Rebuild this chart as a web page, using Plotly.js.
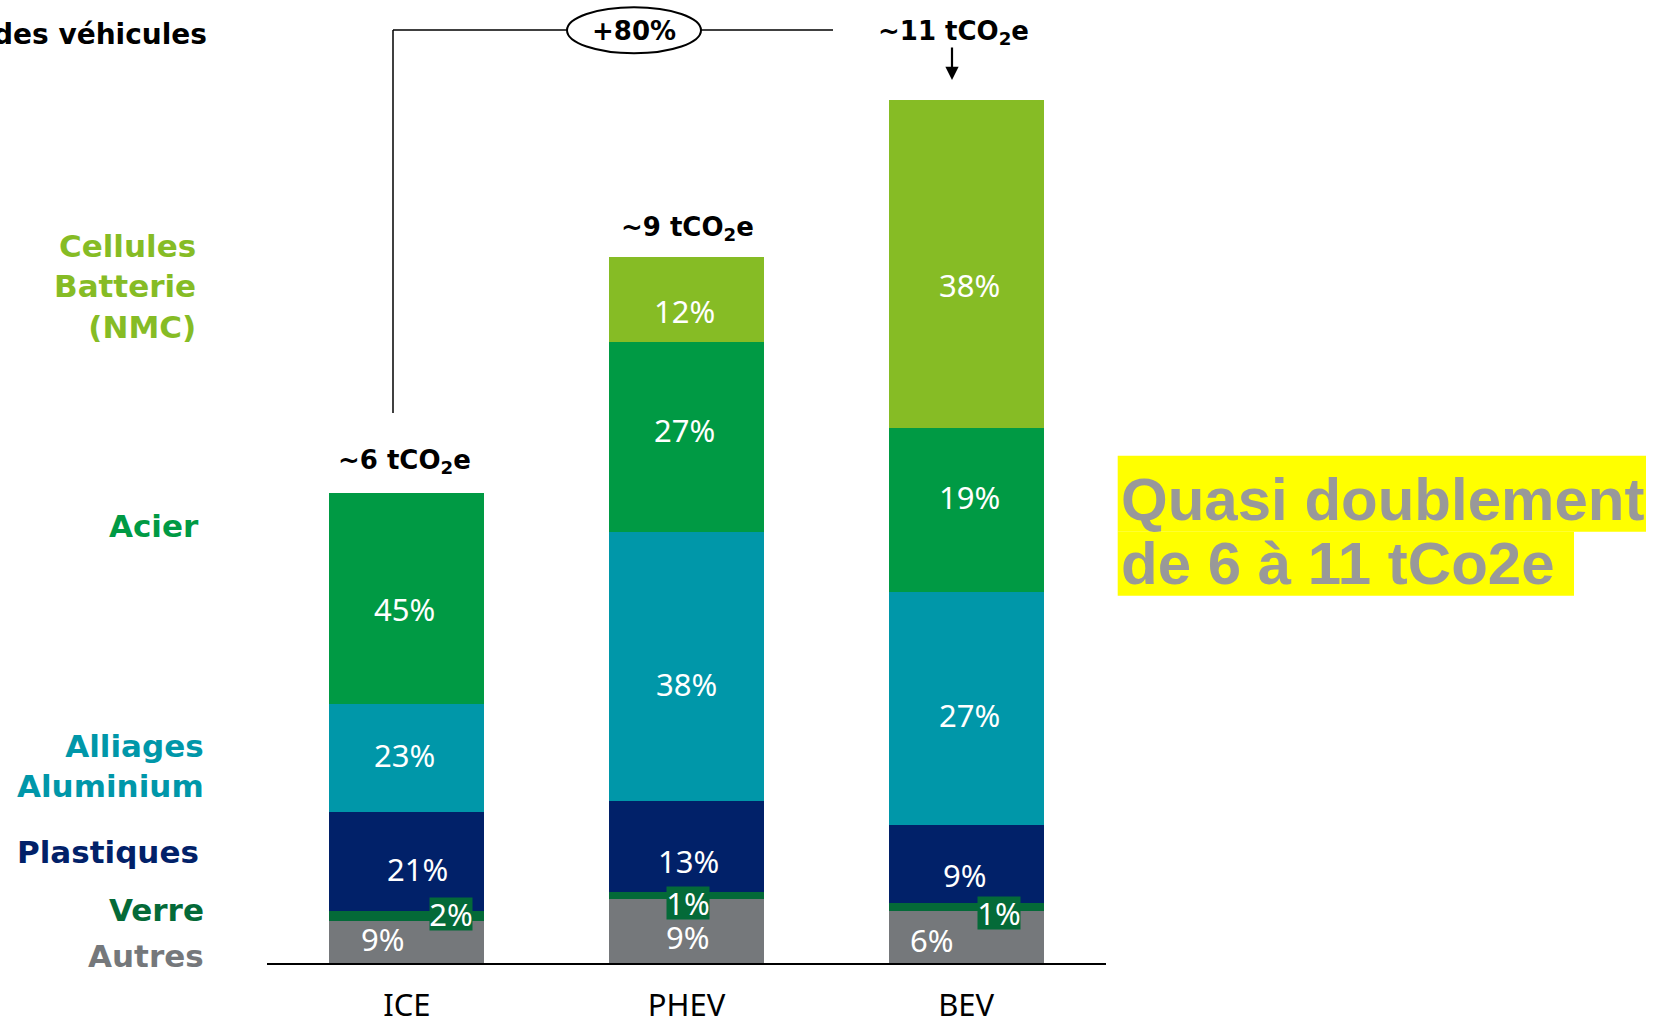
<!DOCTYPE html>
<html>
<head>
<meta charset="utf-8">
<script src="https://cdn.plot.ly/plotly-3.0.1.min.js"></script>
<style>html,body{margin:0;padding:0;background:#fff;}#chart{width:1655px;height:1021px;}</style>
</head>
<body>
<div id="chart"></div>
<script>
// ---- data ----
const categories = ['ICE', 'PHEV', 'BEV'];
const totals = [6, 9, 11]; // tCO2e per vehicle
const seriesNames = ['Autres', 'Verre', 'Plastiques', 'Alliages Aluminium', 'Acier', 'Cellules Batterie (NMC)'];
const autres = [9, 9, 6];        // % of total
const verre = [2, 1, 1];
const plastiques = [21, 13, 9];
const alliages = [23, 38, 27];
const acier = [45, 27, 19];
const cellules = [0, 12, 38];
const totalLabels = ['~6 tCO<sub>2</sub>e', '~9 tCO<sub>2</sub>e', '~11 tCO<sub>2</sub>e'];
const growthLabel = '+80%';
const leftLabels = ['Autres', 'Verre', 'Plastiques', 'Alliages<br>Aluminium', 'Acier', 'Cellules<br>Batterie<br>(NMC)'];
const headerText = 'des véhicules';
const noteLines = ['Quasi doublement', 'de 6 à 11 tCo2e'];

// ---- styles ----
const colors = ['#75787B', '#046A38', '#012169', '#0097A9', '#009A44', '#86BC25'];
const W = 1655, H = 1021;
const M = {l: 267, r: 549, t: 22, b: 58};
const PW = W - M.l - M.r, PH = H - M.t - M.b;
const px = x => (x - M.l) / PW;
const py = y => (H - M.b - y) / PH;
// label pixel offsets (dx right, dy down) per series, per category
const labDX = [[-23.5, 1, -34], [44.5, 1, 33], [10.5, 2, -1], [-2.5, 0, 3], [-2.5, -2, 3], [0, -2, 3]];
const labDY = [[-3, 6, 3], [-2, 7, 6], [7, 14.5, 11.5], [-3.5, 17.5, 6.5], [10.5, -7, -13], [0, 11.5, 21]];
const leftLabelPos = [[206, 955.6], [206, 909.6], [201, 852], [206, 765.5], [201, 525.6], [198, 286]];
const totalLabelPos = [[404, 461], [687, 229], [953, 33]];

const pctSeries = [autres, verre, plastiques, alliages, acier, cellules];
const valSeries = pctSeries.map(s => s.map((p, i) => totals[i] * p / 100));

const traces = valSeries.map((vals, k) => ({
  type: 'bar', x: categories, y: vals, name: seriesNames[k],
  marker: {color: colors[k], line: {width: 0}},
  hoverinfo: 'skip'
}));

const annotations = [];
// segment labels
const cum = [0, 0, 0];
valSeries.forEach((vals, k) => {
  vals.forEach((v, i) => {
    const center = cum[i] + v / 2;
    cum[i] += v;
    if (pctSeries[k][i] <= 0) return;
    const small = k === 1;
    const a = {
      x: categories[i], y: center, xref: 'x', yref: 'y', xanchor: 'center', yanchor: 'middle',
      text: pctSeries[k][i] + '%', showarrow: false,
      xshift: labDX[k][i], yshift: -labDY[k][i],
      font: {family: 'Noto Sans, Open Sans, sans-serif', size: 31, color: '#ffffff'}
    };
    if (small) { a.bgcolor = '#046A38'; a.borderpad = 0; a.width = 42; a.height = 32; }
    annotations.push(a);
  });
});
// total labels
totalLabels.forEach((t, i) => {
  annotations.push({xref: 'paper', yref: 'paper', x: px(totalLabelPos[i][0]), y: py(totalLabelPos[i][1]),
    xanchor: 'center', yanchor: 'middle',
    text: '<b>' + t + '</b>', showarrow: false,
    font: {family: 'DejaVu Sans, Verdana, sans-serif', size: 26, color: '#000'}});
});
// arrow to BEV
annotations.push({xref: 'paper', yref: 'paper', x: px(952), y: py(80), ax: 0, ay: -34,
  axref: 'pixel', ayref: 'pixel', text: '', showarrow: true, arrowhead: 2, arrowsize: 1.2,
  arrowwidth: 2.2, arrowcolor: '#000', standoff: 0});
// +80%
annotations.push({xref: 'paper', yref: 'paper', x: px(634), y: py(31), xanchor: 'center', yanchor: 'middle',
  text: '<b>' + growthLabel + '</b>',
  showarrow: false, font: {family: 'DejaVu Sans, Verdana, sans-serif', size: 26, color: '#000'}});
// left labels
leftLabels.forEach((t, k) => {
  annotations.push({xref: 'paper', yref: 'paper', x: px(leftLabelPos[k][0]), y: py(leftLabelPos[k][1]),
    xanchor: 'right', yanchor: 'middle', align: 'right', text: '<b>' + t + '</b>', showarrow: false,
    font: {family: 'DejaVu Sans, Verdana, sans-serif', size: 31, color: colors[k]}});
});
// header
annotations.push({xref: 'paper', yref: 'paper', x: px(209), y: py(34.5), xanchor: 'right', yanchor: 'middle',
  text: '<b>' + headerText + '</b>', showarrow: false,
  font: {family: 'DejaVu Sans, Verdana, sans-serif', size: 28, color: '#000'}});
// note
const noteY = [499, 563];
noteLines.forEach((t, j) => {
  annotations.push({xref: 'paper', yref: 'paper', x: px(1119), y: py(noteY[j]), xanchor: 'left', yanchor: 'middle',
    text: '<b>' + t + '</b>', showarrow: false,
    font: {family: 'Liberation Sans, Arial, sans-serif', size: 60, color: '#999999'}});
});

const shapes = [
  {type: 'rect', xref: 'paper', yref: 'paper', x0: px(1117.7), x1: px(1646), y0: py(531.7), y1: py(455.7),
    fillcolor: '#FFFF00', line: {width: 0}, layer: 'above'},
  {type: 'rect', xref: 'paper', yref: 'paper', x0: px(1117.7), x1: px(1574), y0: py(595.7), y1: py(531.7),
    fillcolor: '#FFFF00', line: {width: 0}, layer: 'above'},
  {type: 'line', xref: 'paper', yref: 'paper', x0: px(393), x1: px(833), y0: py(30), y1: py(30),
    line: {color: '#000', width: 1.5}, layer: 'above'},
  {type: 'line', xref: 'paper', yref: 'paper', x0: px(393), x1: px(393), y0: py(30), y1: py(413),
    line: {color: '#000', width: 1.5}, layer: 'above'},
  {type: 'circle', xref: 'paper', yref: 'paper', x0: px(567), x1: px(701), y0: py(53.3), y1: py(7.3),
    fillcolor: '#ffffff', line: {color: '#000', width: 2}, layer: 'above'}
];

const layout = {
  width: W, height: H, margin: M,
  paper_bgcolor: '#fff', plot_bgcolor: '#fff',
  barmode: 'stack', bargap: 0.446, showlegend: false,
  xaxis: {type: 'category', showline: true, linecolor: '#000', linewidth: 2, ticks: '',
    showgrid: false, zeroline: false, ticklabelstandoff: 14,
    tickfont: {family: 'Noto Sans, Open Sans, sans-serif', size: 31, color: '#000'}},
  yaxis: {range: [0, 12], visible: false, showgrid: false, zeroline: false, fixedrange: true},
  annotations: annotations, shapes: shapes
};

Plotly.newPlot('chart', traces, layout, {displayModeBar: false, staticPlot: true});
</script>
</body>
</html>
